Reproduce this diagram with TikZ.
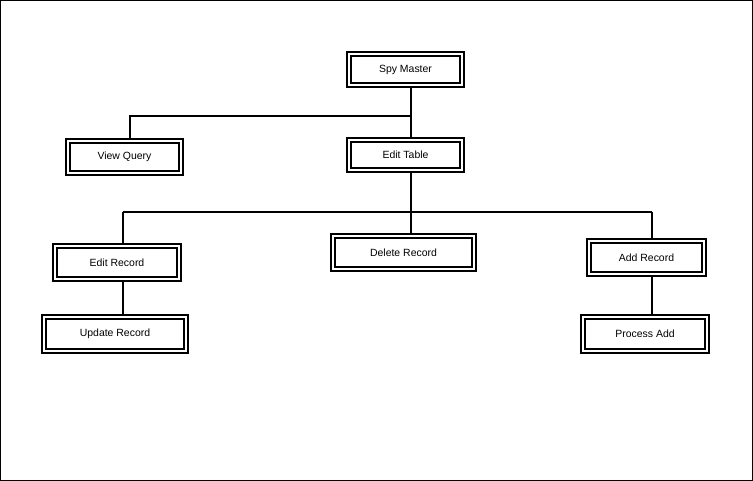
\documentclass[tikz,border=0pt]{standalone}
\usepackage{fontspec}
\setmainfont{Liberation Sans}
\begin{document}
\begin{tikzpicture}[x=1bp,y=-1bp,
  box/.style={draw, line width=1.2bp, inner sep=0pt, outer sep=0pt,
    font=\fontsize{10.5}{12}\selectfont,
    path picture={\draw[line width=2bp]
      ([shift={(4bp,-4bp)}]path picture bounding box.north west) rectangle
      ([shift={(-4bp,4bp)}]path picture bounding box.south east);}},
  conn/.style={line width=2bp}]
\useasboundingbox (0,0) rectangle (753,481);
\draw[line width=1.5bp] (0.75,0.75) rectangle (752.25,480.25);
\node[box, minimum width=117bp, minimum height=35bp] (sm) at (405.5,69.5) {Spy Master};
\node[box, minimum width=117bp, minimum height=34bp] (et) at (405.5,155) {Edit Table};
\node[box, minimum width=117bp, minimum height=36bp] (vq) at (124.5,157) {View Query};
\node[box, minimum width=128bp, minimum height=37bp] (er) at (117,262.5) {Edit Record};
\node[box, minimum width=146bp, minimum height=38bp] (ur) at (115,334) {Update Record};
\node[box, minimum width=145bp, minimum height=37bp] (dr) at (403.5,252.5) {Delete Record};
\node[box, minimum width=119bp, minimum height=37bp] (ar) at (646.5,257.5) {Add Record};
\node[box, minimum width=128bp, minimum height=38bp] (pa) at (645,334) {Process Add};
\coordinate (j1) at (411,116);
\coordinate (j2) at (411,212);
\coordinate (cvq) at (130,116);
\coordinate (cer) at (123,212);
\coordinate (cad) at (652,212);
\draw[conn] (sm.south -| j1) -- (et.north -| j1);
\draw[conn] (j1) -- (cvq) -- (cvq |- vq.north);
\draw[conn] (et.south -| j2) -- (dr.north -| j2);
\draw[conn] (cer) -- (cad);
\draw[conn] (cer) -- (cer |- er.north);
\draw[conn] (cad) -- (cad |- ar.north);
\draw[conn] (er.south -| cer) -- (ur.north -| cer);
\draw[conn] (ar.south -| cad) -- (pa.north -| cad);
\end{tikzpicture}
\end{document}
